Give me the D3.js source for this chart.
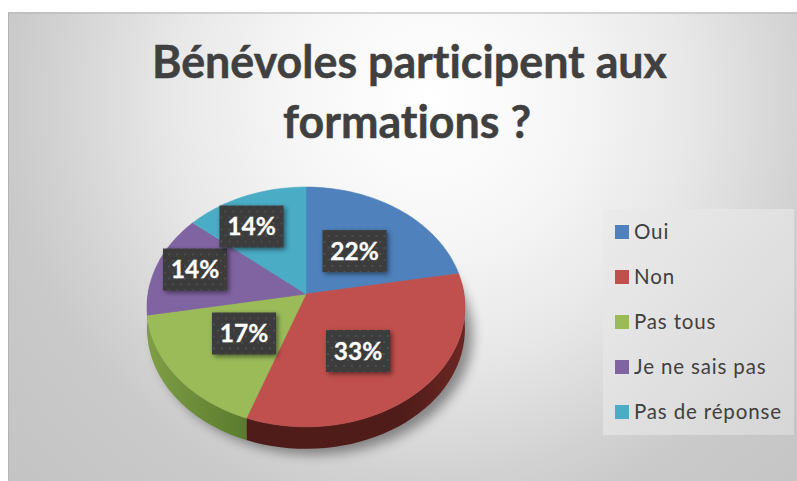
<!DOCTYPE html>
<html><head><meta charset="utf-8">
<script src="https://cdn.jsdelivr.net/npm/d3@7/dist/d3.min.js"></script>
<style>html,body{margin:0;padding:0;background:#fff}svg{display:block}text{font-family:Lato,"Open Sans",sans-serif;font-variant-ligatures:none}</style>
</head><body><script>
const categories = ["Oui","Non","Pas tous","Je ne sais pas","Pas de réponse"];
const values = [22.2,33.3,16.7,13.9,13.9];
const labels = ["22%","33%","17%","14%","14%"];
const colors = ["#4f81bd","#c0504d","#9bbb59","#8064a2","#4bacc6"];
const wallFrom = ["#2c4a6e","#6a2623","#7f9e45","#4a3a60","#2a6a7c"];
const wallTo = ["#2c4a6e","#4f1c19","#5a7a2e","#4a3a60","#2a6a7c"];
const titleLines = ["Bénévoles participent aux","formations ?"];
const W=797,H=481;
const svg=d3.select("body").append("svg").attr("width",W).attr("height",H);
const defs=svg.append("defs");
const bg=defs.append("radialGradient").attr("id","bg").attr("gradientUnits","userSpaceOnUse")
 .attr("cx",430).attr("cy",100).attr("r",560);
[[0,"#ffffff"],[0.25,"#f6f6f6"],[0.46,"#e8e8e8"],[0.67,"#d2d2d2"],[0.77,"#c9c9c9"],[1,"#c4c4c4"]].forEach(s=>bg.append("stop").attr("offset",s[0]).attr("stop-color",s[1]));
const lg=defs.append("linearGradient").attr("id","lg").attr("x1",0).attr("y1",0).attr("x2",1).attr("y2",1);
[[0,"#ebebeb"],[1,"#d6d6d6"]].forEach(s=>lg.append("stop").attr("offset",s[0]).attr("stop-color",s[1]));
const blur=defs.append("filter").attr("id","blur").attr("x","-20%").attr("y","-20%").attr("width","140%").attr("height","140%");
blur.append("feGaussianBlur").attr("stdDeviation",6);
const soft=defs.append("filter").attr("id","soft").attr("x","-30%").attr("y","-30%").attr("width","160%").attr("height","160%");
soft.append("feGaussianBlur").attr("stdDeviation",2.5);
const pat=defs.append("pattern").attr("id","dots").attr("width",8).attr("height",12).attr("patternUnits","userSpaceOnUse");
pat.append("rect").attr("width",8).attr("height",12).attr("fill","#3c3c3c");
pat.append("circle").attr("cx",2).attr("cy",3).attr("r",1).attr("fill","#535353");
pat.append("circle").attr("cx",6).attr("cy",9).attr("r",1).attr("fill","#535353");

// background panel
svg.append("rect").attr("x",8).attr("y",12).attr("width",W-8).attr("height",H-12).attr("fill","url(#bg)");
svg.append("path").attr("d",d3.line()([[8.5,H],[8.5,13],[W,13]])).attr("fill","none").attr("stroke","#b4b4b4");

// title
const titleX=[409.5,407], titleY=[78,138], titleW=[515,248];
svg.append("g").selectAll("text").data(titleLines).join("text")
 .attr("x",(d,i)=>titleX[i]).attr("y",(d,i)=>titleY[i]).attr("text-anchor","middle")
 .attr("textLength",(d,i)=>titleW[i]).attr("lengthAdjust","spacingAndGlyphs")
 .attr("font-size",46).attr("font-weight",700).attr("fill","#404040")
 .attr("stroke","#404040").attr("stroke-width",0.5).text(d=>d);

// perspective pie
const cx=306,cy=294,R=158,squash=0.75,persp=-0.108,depth=22;
const project=(a,r=1,dy=0)=>{const x=Math.sin(a)*r,y=-Math.cos(a)*r,w=1+persp*y;
 return [cx+R*x/w, cy+R*squash*y/w+dy];};
const pie=d3.pie().sort(null)(values);
const arcPts=(a0,a1,dy=0)=>d3.range(0,41).map(i=>project(a0+(a1-a0)*i/40,1,dy));
const line=d3.line();

// soft shadow
svg.append("path").attr("d",line(arcPts(0,2*Math.PI,depth+3))+"Z").attr("transform","translate(8,3)")
 .attr("fill","#000").attr("opacity",0.4).attr("filter","url(#blur)");

// side walls for the front half
const front=[Math.PI/2-0.1,Math.PI*3/2+0.1];
const wallG=svg.append("g");
pie.forEach((d,i)=>{
 const a0=Math.max(d.startAngle,front[0]),a1=Math.min(d.endAngle,front[1]);
 if(a1<=a0)return;
 const top=arcPts(a0,a1,0),bot=arcPts(a0,a1,depth).reverse();
 const id="wall"+i;
 const g=defs.append("linearGradient").attr("id",id).attr("gradientUnits","userSpaceOnUse")
   .attr("x1",i===1?top[0][0]:top[40][0]).attr("x2",i===1?top[0][0]-60:top[0][0]).attr("y1",0).attr("y2",0);
 g.append("stop").attr("offset",0).attr("stop-color",wallFrom[i]);
 g.append("stop").attr("offset",1).attr("stop-color",wallTo[i]);
 wallG.append("path").attr("d",line(top.concat(bot))+"Z").attr("fill",`url(#${id})`);
});

// top face
svg.append("g").selectAll("path").data(pie).join("path")
 .attr("d",d=>line([project(0,0)].concat(arcPts(d.startAngle,d.endAngle)))+"Z")
 .attr("fill",(d,i)=>colors[i]).attr("stroke",(d,i)=>colors[i]).attr("stroke-width",0.6);

// data labels
const labelAt=[[354.5,251],[358,351],[244,333.5],[195,269.5],[251.5,226.5]];
const lbl=svg.append("g").selectAll("g").data(labels).join("g").attr("transform",(d,i)=>`translate(${labelAt[i]})`);
lbl.append("rect").attr("x",-30).attr("y",-19).attr("width",64).attr("height",42).attr("fill","#000").attr("opacity",0.5).attr("filter","url(#soft)");
lbl.append("rect").attr("x",-32).attr("y",-21).attr("width",64).attr("height",42).attr("fill","url(#dots)");
lbl.append("text").attr("text-anchor","middle").attr("y",8.5).attr("font-size",24.5).attr("font-weight",700).attr("fill","#fff")
 .attr("stroke","#fff").attr("stroke-width",0.3).text(d=>d);

// legend
svg.append("rect").attr("x",603).attr("y",209).attr("width",191).attr("height",226).attr("fill","url(#lg)");
const legY=d3.scalePoint().domain(categories).range([232,412]);
const leg=svg.append("g").selectAll("g").data(categories).join("g").attr("transform",d=>`translate(615,${legY(d)})`);
leg.append("rect").attr("y",-7).attr("width",14).attr("height",14).attr("fill",(d,i)=>colors[i]);
leg.append("text").attr("x",19).attr("y",7).attr("font-size",20.5).attr("fill","#404040").attr("letter-spacing",0.85).text(d=>d);
</script></body></html>
